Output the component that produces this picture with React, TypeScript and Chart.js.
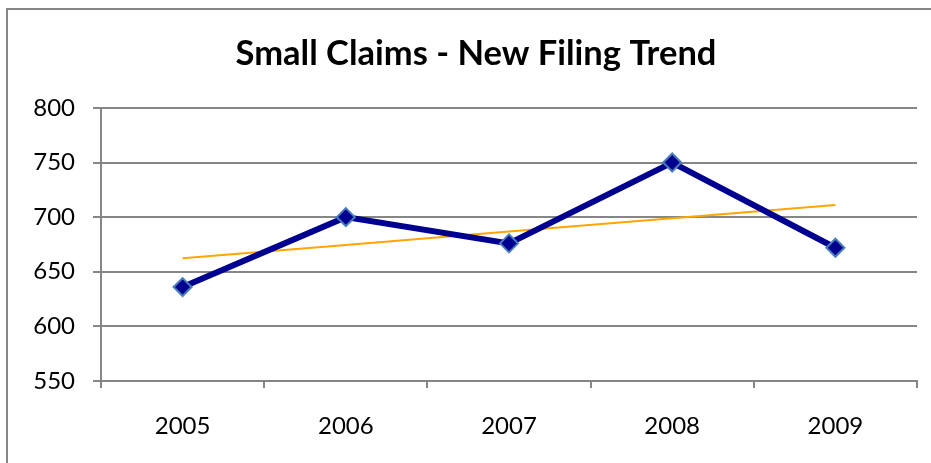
import React, { useEffect, useRef } from "react";
import { Chart, registerables } from "chart.js";

Chart.register(...registerables);

const years = ["2005", "2006", "2007", "2008", "2009"];
const filings = [636, 700, 676, 750, 672];
const yTicks = [550, 600, 650, 700, 750, 800];
const chartTitle = "Small Claims - New Filing Trend";

function linearTrend(values: number[]): number[] {
  const n = values.length;
  const xs = values.map((_, i) => i + 1);
  const mx = xs.reduce((a, b) => a + b, 0) / n;
  const my = values.reduce((a, b) => a + b, 0) / n;
  let num = 0;
  let den = 0;
  for (let i = 0; i < n; i++) {
    num += (xs[i] - mx) * (values[i] - my);
    den += (xs[i] - mx) * (xs[i] - mx);
  }
  const slope = num / den;
  return xs.map((x) => my + slope * (x - mx));
}

const GRID = "#868686";
const FONT = "Lato, 'Open Sans', sans-serif";

const outerBorder = {
  id: "outerBorder",
  afterLayout(chart: any) {
    const tb = chart.titleBlock;
    if (tb) {
      tb.left = 21;
      tb.right = 931;
    }
  },
  afterDraw(chart: any) {
    const ctx = chart.ctx;
    ctx.save();
    ctx.strokeStyle = GRID;
    ctx.lineWidth = 2;
    ctx.strokeRect(7, 9, 1200, 1200);
    ctx.restore();
  },
};

export default function App() {
  const ref = useRef<HTMLCanvasElement | null>(null);
  useEffect(() => {
    if (!ref.current) return;
    const trend = linearTrend(filings);
    const chart = new Chart(ref.current, {
      type: "line",
      data: {
        labels: years,
        datasets: [
          {
            label: "Filings",
            data: filings,
            borderColor: "#000090",
            backgroundColor: "#000090",
            borderWidth: 6,
            pointStyle: "rectRot",
            pointRadius: 9,
            pointBorderWidth: 2,
            pointBorderColor: "#4a7ebb",
            pointBackgroundColor: "#000090",
            tension: 0,
            order: 1,
          },
          {
            label: "Trend",
            data: trend,
            borderColor: "#FFA500",
            borderWidth: 2,
            pointRadius: 0,
            tension: 0,
            order: 2,
          },
        ],
      },
      options: {
        responsive: false,
        animation: false,
        layout: { padding: { left: 0, right: 14, top: 0, bottom: 0 } },
        plugins: {
          legend: { display: false },
          tooltip: { enabled: false },
          title: {
            display: true,
            text: chartTitle,
            color: "#000",
            font: { family: FONT, size: 34.5, weight: "bold", lineHeight: 1.2 },
            padding: { top: 33, bottom: 33.5 },
          },
        },
        scales: {
          x: {
            offset: true,
            grid: {
              offset: true,
              drawOnChartArea: false,
              drawTicks: true,
              tickLength: 7,
              color: GRID,
              lineWidth: 2,
            },
            border: { display: true, color: GRID, width: 2 },
            ticks: {
              color: "#000",
              font: { family: FONT, size: 24 },
              padding: 24,
              maxRotation: 0,
            },
            afterFit(scale: any) {
              scale.height = 82;
            },
          },
          y: {
            min: 550,
            max: 800,
            afterBuildTicks(scale: any) {
              scale.ticks = yTicks.map((v) => ({ value: v }));
            },
            grid: {
              color: GRID,
              lineWidth: 2,
              drawTicks: true,
              tickLength: 8,
            },
            border: { display: true, color: GRID, width: 2 },
            ticks: {
              color: "#000",
              font: { family: FONT, size: 24 },
              padding: 18,
            },
            afterFit(scale: any) {
              scale.width = 101;
            },
          },
        },
      },
      plugins: [outerBorder],
    });
    return () => chart.destroy();
  }, []);
  return (
    <div style={{ position: "absolute", left: 0, top: 0, width: 931, height: 463, background: "#fff" }}>
      <canvas ref={ref} width={931} height={463} />
    </div>
  );
}
